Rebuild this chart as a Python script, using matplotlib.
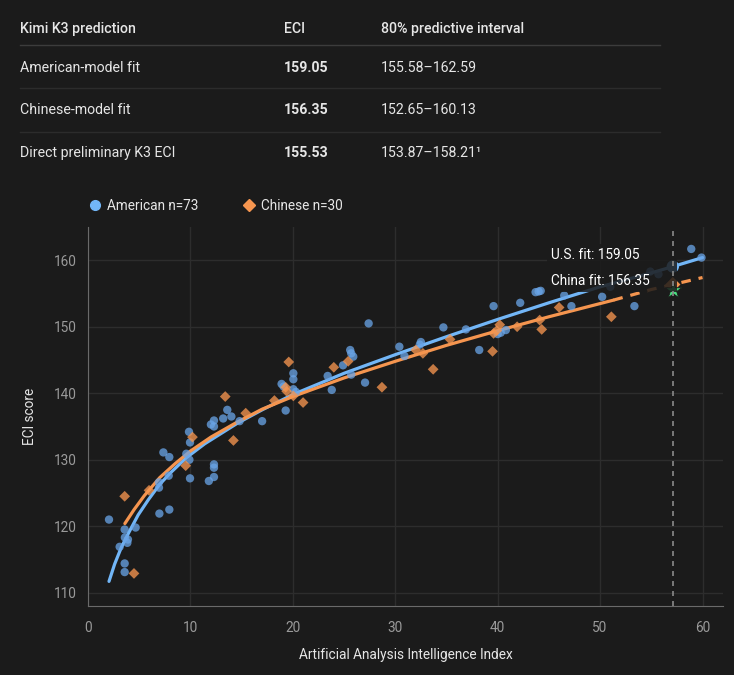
import numpy as np
import matplotlib
matplotlib.use("Agg")
from matplotlib import pyplot as plt
from matplotlib.lines import Line2D
from matplotlib.patches import Rectangle

plt.rcParams["font.family"] = ["Roboto", "DejaVu Sans"]

# summary table
table_header = ["Kimi K3 prediction", "ECI", "80% predictive interval"]
table_rows = ["American-model fit", "Chinese-model fit", "Direct preliminary K3 ECI"]
table_eci = ["159.05", "156.35", "155.53"]
table_interval = ["155.58–162.59", "152.65–160.13", "153.87–158.21¹"]

# American models (Intelligence Index, ECI score)
us_x = [2.05, 3.58, 4.65, 3.6, 3.09, 3.84, 3.58, 3.58, 6.97, 7.94,
        6.93, 6.93, 7.88, 9.96, 7.36, 7.94, 9.6, 9.9, 9.96, 9.86,
        11.8, 12.3, 12.3, 12.3, 12.3, 12.3, 13.2, 13.6, 14.0, 14.8,
        17.0, 18.9, 19.3, 20.05, 20.05, 20.05, 19.1, 23.4, 23.8, 24.9,
        25.6, 25.7, 25.7, 27.4, 27.05, 30.4, 30.9, 32.5, 34.7, 36.9,
        38.2, 39.6, 40.0, 40.8, 42.2, 43.7, 44.2, 46.5, 47.2, 50.2,
        53.35, 51.0, 54.9, 55.7, 58.9, 59.9, 3.9, 20.3, 32.4, 25.9,
        12.0, 40.3, 44.0]
us_y = [121.0, 119.5, 119.8, 118.3, 116.9, 117.5, 114.4, 113.1, 121.9, 122.5,
        125.8, 126.6, 127.6, 127.2, 131.1, 130.4, 130.9, 130.0, 132.6, 134.2,
        126.8, 127.4, 129.3, 128.8, 135.9, 135.0, 136.2, 137.5, 136.5, 135.8,
        135.8, 141.4, 137.4, 143.0, 142.1, 140.6, 141.0, 142.6, 140.5, 144.2,
        146.5, 146.0, 142.8, 150.5, 141.6, 147.0, 145.6, 147.7, 149.9, 149.6,
        146.5, 153.1, 148.9, 149.5, 153.6, 155.2, 155.4, 154.7, 153.1, 154.5,
        153.1, 156.0, 158.3, 157.9, 161.7, 160.4, 118.0, 140.2, 147.3, 145.5,
        135.3, 149.1, 155.3]

# Chinese models
cn_x = [3.58, 4.49, 5.96, 9.54, 10.2, 14.2, 13.4, 15.4, 18.2, 19.6,
        19.3, 19.4, 20.05, 21.0, 24.0, 25.4, 28.7, 32.0, 32.7, 33.7,
        35.35, 39.5, 39.6, 39.9, 40.2, 41.9, 44.1, 44.3, 46.0, 51.1]
cn_y = [124.5, 112.9, 125.4, 129.1, 133.4, 132.9, 139.5, 137.0, 138.9, 144.7,
        140.9, 140.3, 139.6, 138.6, 143.9, 144.8, 140.9, 146.5, 146.0, 143.6,
        148.1, 146.3, 149.0, 149.4, 150.3, 150.0, 151.0, 149.6, 152.9, 151.5]

# fitted curves
us_fit_x = [2.05, 2.6, 3.25, 3.9, 4.9, 5.9, 7.0, 8.1, 9.6, 11.4, 14.6, 17.0,
            20.0, 25.0, 30.0, 35.0, 40.0, 45.0, 50.0, 55.0, 57.1, 60.0]
us_fit_y = [111.7, 114.3, 116.8, 118.8, 121.7, 124.0, 126.3, 128.1, 130.3, 132.4, 135.5, 137.5,
            139.8, 143.0, 145.8, 148.5, 151.1, 153.6, 156.0, 158.1, 159.05, 160.4]
cn_fit_x = [3.6, 4.5, 5.5, 7.0, 8.5, 10.0, 12.0, 14.5, 17.0, 20.0, 25.0, 30.0,
            35.0, 40.0, 45.0, 51.3]
cn_fit_y = [120.4, 122.5, 124.6, 127.3, 129.4, 131.3, 133.4, 135.6, 137.6, 139.5, 142.3, 144.8,
            147.2, 149.4, 151.5, 154.0]
cn_ext_x = [51.3, 55.0, 57.1, 60.0]
cn_ext_y = [154.0, 155.6, 156.35, 157.4]

# Kimi K3
k3_index = 57.1
k3_us_fit = 159.05
k3_cn_fit = 156.35
k3_direct = 155.53

BG = "#1b1b1b"
BLUE = "#6aa5e8"
BLUE_LINE = "#72b6f7"
ORANGE = "#f5954f"
GREEN = "#4ade80"
TEXT = "#e6e6e6"
GREY = "#9a9a9a"

W, H = 734, 675
fig = plt.figure(figsize=(W / 100, H / 100), dpi=100, facecolor=BG)

def fx(px):
    return px / W

def fy(py):
    return 1 - py / H

# table
col_x = [20, 284, 381]
for j, head in enumerate(table_header):
    fig.text(fx(col_x[j]), fy(29), head, color=TEXT, fontsize=10.2, fontweight="medium", va="center")
row_y = [67.7, 110, 153.3]
line_y = [45.3, 88.3, 131.7]
for i, name in enumerate(table_rows):
    fig.text(fx(col_x[0]), fy(row_y[i]), name, color=TEXT, fontsize=10.2, va="center")
    fig.text(fx(col_x[1]), fy(row_y[i]), table_eci[i], color=TEXT, fontsize=10.2, fontweight="bold", va="center")
    fig.text(fx(col_x[2]), fy(row_y[i]), table_interval[i], color=TEXT, fontsize=10.2, va="center")
for i, ly in enumerate(line_y):
    fig.add_artist(Line2D([fx(20), fx(660)], [fy(ly), fy(ly)], color="#3c3c3c" if i == 0 else "#2c2c2c", lw=1))

# scatter axes
ax = fig.add_axes([fx(88), fy(606), fx(723) - fx(88), fy(227) - fy(606)])
ax.set_facecolor(BG)
ax.set_xlim(0, 62)
ax.set_ylim(108, 165)
ax.set_xticks(np.arange(0, 61, 10))
ax.set_yticks(np.arange(110, 161, 10))
ax.grid(color="#2d2d2d", lw=1)
ax.set_axisbelow(True)
for side in ["top", "right"]:
    ax.spines[side].set_visible(False)
for side in ["left", "bottom"]:
    ax.spines[side].set_color("#6a6a6a")
ax.tick_params(length=0, colors=GREY, labelsize=9.8)
ax.tick_params(axis="x", pad=11)
ax.tick_params(axis="y", pad=8)
ax.set_xlabel("Artificial Analysis Intelligence Index", color=TEXT, fontsize=9.8, labelpad=9)
ax.set_ylabel("ECI score", color=TEXT, fontsize=9.8, labelpad=12)

ax.axvline(k3_index, color="#8a8a8a", lw=1.2, ls=(0, (3, 3)), zorder=8)

ax.plot(us_fit_x, us_fit_y, color=BLUE_LINE, lw=2.3, zorder=3, solid_capstyle="round")
ax.plot(cn_fit_x, cn_fit_y, color=ORANGE, lw=2.3, zorder=3, solid_capstyle="round")
ax.plot(cn_ext_x, cn_ext_y, color=ORANGE, lw=2.3, zorder=3, dashes=(3, 2.5))

ax.scatter(us_x, us_y, s=36, color=BLUE, alpha=0.75, edgecolors="none", zorder=4)
ax.scatter(cn_x, cn_y, s=30, marker="D", color=ORANGE, alpha=0.78, edgecolors="none", zorder=4)

ax.scatter([k3_index], [k3_us_fit], s=80, color=BLUE_LINE, edgecolors="none", zorder=5)
ax.scatter([k3_index], [k3_cn_fit], s=60, marker="D", color=ORANGE, edgecolors="none", zorder=5)
ax.scatter([k3_index], [k3_direct], s=160, marker="*", color=GREEN, edgecolors=BG, linewidths=0.6, zorder=5)

# translucent label panel
ax.add_patch(Rectangle((44.8, 155.2), 57.5 - 44.8, 162.4 - 155.2, facecolor=BG, edgecolor="none", alpha=0.85, zorder=6))
ax.text(45.2, 160.8, f"U.S. fit: {k3_us_fit:.2f}", color="white", fontsize=9.8, va="center", zorder=7)
ax.text(45.2, 156.9, f"China fit: {k3_cn_fit:.2f}", color="white", fontsize=9.8, va="center", zorder=7)

handles = [
    Line2D([], [], ls="none", marker="o", markersize=7, color=BLUE_LINE),
    Line2D([], [], ls="none", marker="D", markersize=6, color=ORANGE),
]
fig.legend(handles, [f"American n={len(us_x)}", f"Chinese n={len(cn_x)}"], loc="center left",
           bbox_to_anchor=(fx(76), fy(205.7)), ncol=2, frameon=False, fontsize=9.8,
           labelcolor=TEXT, handlelength=1.0, handletextpad=0.4, columnspacing=3.2)

fig.savefig("out.png", dpi=100, facecolor=BG)
